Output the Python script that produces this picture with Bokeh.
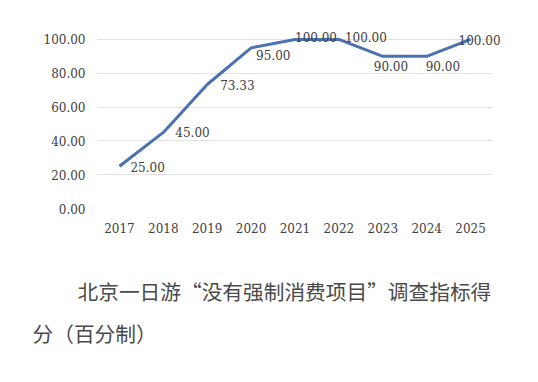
from bokeh.plotting import figure
from bokeh.models import (ColumnDataSource, FactorRange, Range1d, FixedTicker,
                          NumeralTickFormatter, LabelSet, Title)
from bokeh.core.properties import value
from bokeh.embed import file_html
from bokeh.resources import INLINE

# ---- data ----
years = ["2017", "2018", "2019", "2020", "2021", "2022", "2023", "2024", "2025"]
scores = [25.00, 45.00, 73.33, 95.00, 100.00, 100.00, 90.00, 90.00, 100.00]
y_ticks = [0, 20, 40, 60, 80, 100]
caption_line1 = "北京一日游“没有强制消费项目”调查指标得"
caption_line2 = "分（百分制）"

# label placement (pixels), kept apart from the data
label_dx = [11, 12, 13, 5, 0, 6, -9, -1, -12]
label_dy = [-1, 0, 0, -7, 2, 2, -10, -10, -1]

src = ColumnDataSource(dict(
    x=years, y=scores,
    txt=["%.2f" % v for v in scores],
    dx=label_dx, dy=label_dy,
))

TEXT = "#404040"
NUMFONT = "DejaVu Serif"

p = figure(x_range=FactorRange(*years, range_padding=0.0456),
           y_range=Range1d(0, 110),
           width=527, height=362, output_backend="svg", toolbar_location=None,
           min_border_left=88, min_border_right=26, min_border_top=22,
           min_border_bottom=154)
p.outline_line_color = None
p.background_fill_color = "white"
p.border_fill_color = "white"

p.line("x", "y", source=src, line_color="#4a72b2", line_width=3)

labels = LabelSet(x="x", y="y", text="txt", source=src, x_offset="dx", y_offset="dy",
                  text_align="left", text_baseline="middle",
                  text_font=value(NUMFONT), text_font_size=value("12px"),
                  text_color=value(TEXT))
p.add_layout(labels)

# y axis
p.yaxis.ticker = FixedTicker(ticks=y_ticks)
p.yaxis.formatter = NumeralTickFormatter(format="0.00")
p.yaxis.axis_line_color = None
p.yaxis.major_tick_line_color = None
p.yaxis.minor_tick_line_color = None
p.yaxis.major_tick_in = 0
p.yaxis.major_tick_out = 0
p.yaxis.major_label_standoff = 3
p.yaxis.major_label_text_font = NUMFONT
p.yaxis.major_label_text_font_size = "12px"
p.yaxis.major_label_text_color = TEXT

# x axis
p.xaxis.axis_line_color = None
p.xaxis.major_tick_line_color = None
p.xaxis.minor_tick_line_color = None
p.xaxis.major_tick_in = 0
p.xaxis.major_tick_out = 0
p.xaxis.major_label_standoff = 14
p.xaxis.major_label_text_font = NUMFONT
p.xaxis.major_label_text_font_size = "12px"
p.xaxis.major_label_text_color = TEXT

p.xgrid.grid_line_color = None
p.ygrid.grid_line_color = "#e2e2e2"
p.ygrid.grid_line_width = 1
try:
    p.ygrid.cross_bounds = (0, len(years))
except Exception:
    pass

# blank gap between the axis and the caption
gap = Title(text=" ", align="left", standoff=22, text_font_size="8px")
p.add_layout(gap, "below")

t1 = Title(text=caption_line1, align="left", offset=-11, standoff=10,
           text_font="Noto Sans CJK SC", text_font_size="20.7px",
           text_font_style="normal", text_color="#4a4a4a")
t2 = Title(text=caption_line2, align="left", offset=-56, standoff=10,
           text_font="Noto Sans CJK SC", text_font_size="20.7px",
           text_font_style="normal", text_color="#4a4a4a")
p.add_layout(t1, "below")
p.add_layout(t2, "below")

open("out.html", "w").write(file_html(p, INLINE))
